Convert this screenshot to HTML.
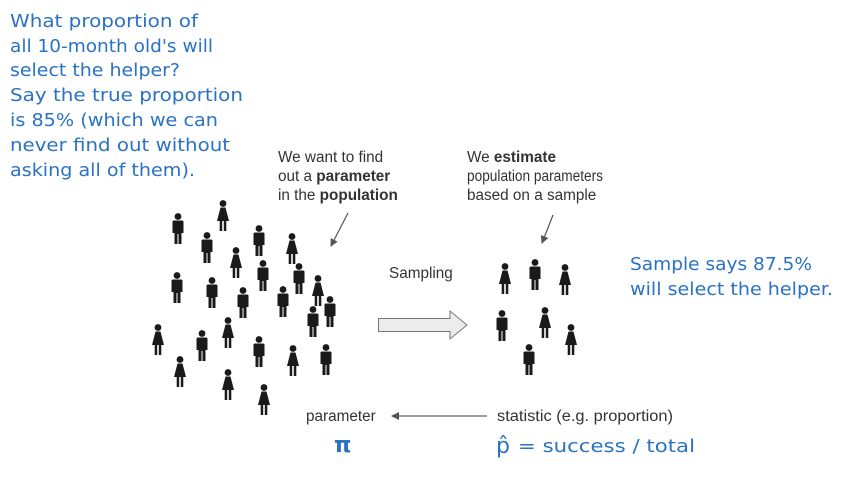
<!DOCTYPE html>
<html><head><meta charset="utf-8"><style>
html,body{margin:0;padding:0;background:#fff;}
svg{display:block;}
.h{font-family:"DejaVu Sans",sans-serif;fill:#2a72c4;font-size:18px;}
.g{font-family:"Liberation Sans",Arial,sans-serif;fill:#333;font-size:15.3px;}
</style></head><body>
<svg width="842" height="477" viewBox="0 0 842 477" xmlns="http://www.w3.org/2000/svg">
<defs>
<g id="m" fill="#1a1a1a">
<circle cx="0" cy="3.5" r="3.4"/>
<path d="M-5.5 9 Q-5.5 7.5 -4 7.5 L4 7.5 Q5.5 7.5 5.5 9 L5.5 20 L3.5 20 L3.5 31 L0.5 31 L0.5 21 L-0.5 21 L-0.5 31 L-3.5 31 L-3.5 20 L-5.5 20 Z"/>
</g>
<g id="w" fill="#1a1a1a">
<circle cx="0" cy="3.5" r="3.4"/>
<path d="M-2.5 7.5 L2.5 7.5 L6 21 L-6 21 Z"/>
<rect x="-3.3" y="21" width="2.5" height="10"/>
<rect x="0.8" y="21" width="2.5" height="10"/>
</g>
<marker id="ah" markerWidth="8" markerHeight="8" refX="7" refY="4" orient="auto" markerUnits="userSpaceOnUse">
<path d="M0 0 L8 4 L0 8 Z" fill="#555"/>
</marker>
</defs>

<g lengthAdjust="spacingAndGlyphs">
<text class="h" x="10" y="27" textLength="188" lengthAdjust="spacingAndGlyphs">What proportion of</text>
<text class="h" x="10" y="52" textLength="203" lengthAdjust="spacingAndGlyphs">all 10-month old's will</text>
<text class="h" x="10" y="76" textLength="170" lengthAdjust="spacingAndGlyphs">select the helper?</text>
<text class="h" x="10" y="101" textLength="233" lengthAdjust="spacingAndGlyphs">Say the true proportion</text>
<text class="h" x="10" y="126" textLength="208" lengthAdjust="spacingAndGlyphs">is 85% (which we can</text>
<text class="h" x="10" y="151" textLength="220" lengthAdjust="spacingAndGlyphs">never find out without</text>
<text class="h" x="10" y="176" textLength="185" lengthAdjust="spacingAndGlyphs">asking all of them).</text>

<text class="h" x="630" y="270" textLength="182" lengthAdjust="spacingAndGlyphs">Sample says 87.5%</text>
<text class="h" x="630" y="295" textLength="203" lengthAdjust="spacingAndGlyphs">will select the helper.</text>
</g>

<text class="g" x="278" y="162">We want to find</text>
<text class="g" x="278" y="181">out a <tspan font-weight="bold">parameter</tspan></text>
<text class="g" x="278" y="200">in the <tspan font-weight="bold">population</tspan></text>
<text class="g" x="467" y="162">We <tspan font-weight="bold">estimate</tspan></text>
<text class="g" x="467" y="181" textLength="136" lengthAdjust="spacingAndGlyphs">population parameters</text>
<text class="g" x="467" y="200">based on a sample</text>
<text class="g" x="389" y="278">Sampling</text>

<line x1="348" y1="213" x2="331" y2="246" stroke="#555" stroke-width="1.2" marker-end="url(#ah)"/>
<line x1="553" y1="215" x2="542" y2="243" stroke="#555" stroke-width="1.2" marker-end="url(#ah)"/>

<path d="M378.5 318.5 L450 318.5 L450 311 L467 325 L450 339 L450 331.5 L378.5 331.5 Z" fill="#ececec" stroke="#777" stroke-width="1"/>

<text class="g" x="306" y="421">parameter</text>
<line x1="487" y1="416" x2="392" y2="416" stroke="#666" stroke-width="1.2" marker-end="url(#ah)"/>
<text class="g" x="497" y="421" textLength="176" lengthAdjust="spacingAndGlyphs">statistic (e.g. proportion)</text>
<text x="334" y="452" font-family="DejaVu Sans,sans-serif" font-weight="bold" font-size="22" fill="#2a72c4">π</text>
<text x="496" y="453" font-family="DejaVu Sans,sans-serif" font-size="22" fill="#2a72c4">p̂</text>
<text class="h" x="518" y="452" textLength="177" lengthAdjust="spacingAndGlyphs">= success / total</text>

<use href="#m" x="178" y="213"/>
<use href="#w" x="223" y="200"/>
<use href="#m" x="207" y="232"/>
<use href="#m" x="259" y="225"/>
<use href="#w" x="236" y="247"/>
<use href="#w" x="292" y="233"/>
<use href="#m" x="263" y="260"/>
<use href="#m" x="299" y="263"/>
<use href="#m" x="177" y="272"/>
<use href="#m" x="212" y="277"/>
<use href="#w" x="318" y="275"/>
<use href="#m" x="243" y="287"/>
<use href="#m" x="283" y="286"/>
<use href="#m" x="330" y="296"/>
<use href="#m" x="313" y="306"/>
<use href="#w" x="228" y="317"/>
<use href="#w" x="158" y="324"/>
<use href="#m" x="202" y="330"/>
<use href="#m" x="259" y="336"/>
<use href="#w" x="293" y="345"/>
<use href="#m" x="326" y="344"/>
<use href="#w" x="180" y="356"/>
<use href="#w" x="228" y="369"/>
<use href="#w" x="264" y="384"/>

<use href="#w" x="505" y="263"/>
<use href="#m" x="535" y="259"/>
<use href="#w" x="565" y="264"/>
<use href="#m" x="502" y="310"/>
<use href="#w" x="545" y="307"/>
<use href="#w" x="571" y="324"/>
<use href="#m" x="529" y="344"/>
</svg>
</body></html>
